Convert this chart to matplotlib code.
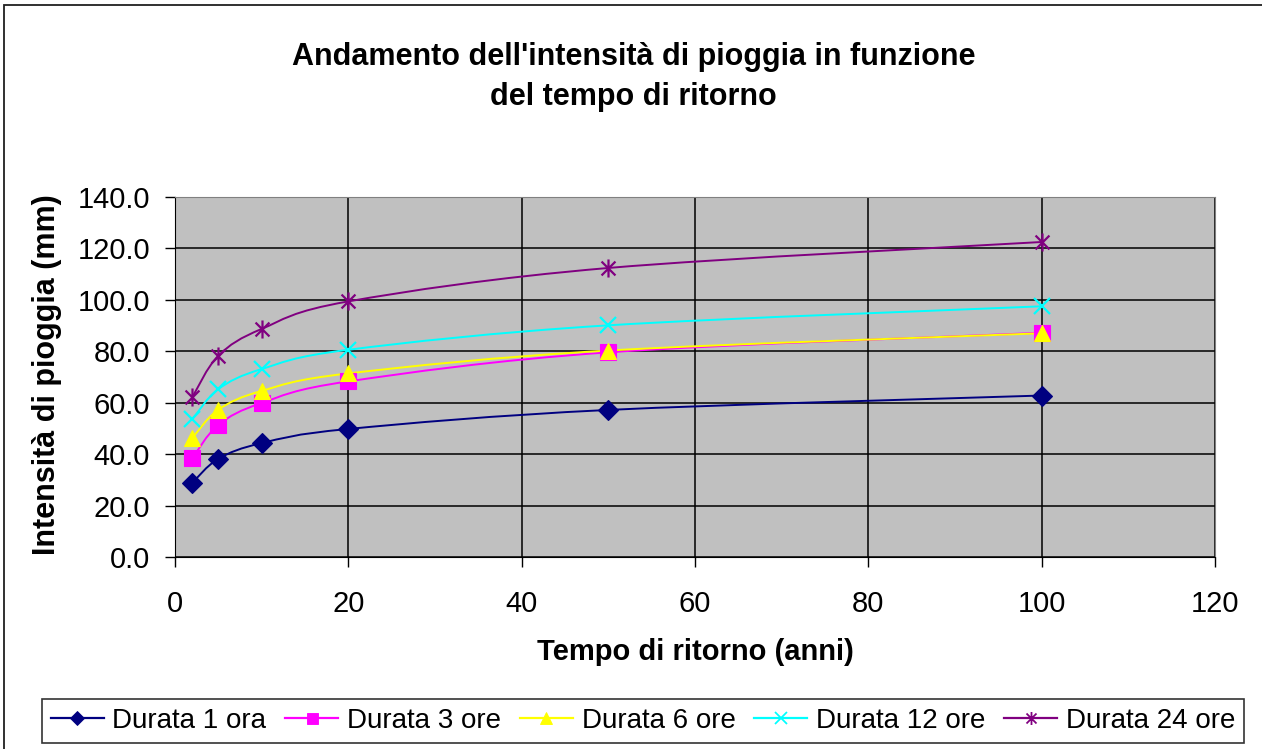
import numpy as np
import matplotlib.pyplot as plt
from matplotlib.path import Path
from matplotlib.patches import PathPatch, Rectangle
from matplotlib.lines import Line2D

plt.rcParams['font.family'] = ['Liberation Sans', 'DejaVu Sans']

# return period (years)
tempo = [2, 5, 10, 20, 50, 100]

# rainfall intensity (mm) for each duration
durata_1 = [28.9, 38.2, 44.3, 49.8, 57.2, 62.8]
durata_3 = [38.5, 51.4, 59.9, 68.3, 79.6, 87.2]
durata_6 = [46.3, 57.3, 64.6, 71.4, 80.3, 87.0]
durata_12 = [53.6, 65.3, 73.1, 80.6, 90.1, 97.5]
durata_24 = [62.2, 78.3, 88.7, 99.4, 112.4, 122.5]

labels = ['Durata 1 ora', 'Durata 3 ore', 'Durata 6 ore', 'Durata 12 ore', 'Durata 24 ore']
colors = ['#000080', '#FF00FF', '#FFFF00', '#00FFFF', '#800080']

# Excel-like asterisk marker: an x plus a vertical bar
star = Path([(-1, -1), (1, 1), (-1, 1), (1, -1), (0, -1.3), (0, 1.3)],
            [Path.MOVETO, Path.LINETO, Path.MOVETO, Path.LINETO, Path.MOVETO, Path.LINETO])
markers = ['D', 's', '^', 'x', star]
msizes = [10, 11, 12, 12, 13]


def smooth_path(x, y):
    # Catmull-Rom style bezier through the points (like Excel smoothed lines)
    p = np.column_stack([x, y]).astype(float)
    n = len(p)
    verts = [p[0]]
    codes = [Path.MOVETO]
    for i in range(n - 1):
        p0 = p[i - 1] if i > 0 else p[i]
        p3 = p[i + 2] if i + 2 < n else p[i + 1]
        c1 = p[i] + (p[i + 1] - p0) / 6
        c2 = p[i + 1] - (p3 - p[i]) / 6
        verts += [c1, c2, p[i + 1]]
        codes += [Path.CURVE4] * 3
    return Path(verts, codes)


fig = plt.figure(figsize=(12.62, 7.49), dpi=100)
fig.patch.set_facecolor('white')
# chart area border (right and bottom edges fall outside the picture)
fig.add_artist(Rectangle((0.0035, -0.05), 1.1, 1.0433, transform=fig.transFigure,
                         fill=False, edgecolor='#202020', linewidth=1.3))

ax = fig.add_axes([0.1387, 0.2563, 0.8241, 0.4807])
ax.set_facecolor('#C0C0C0')

series = [durata_1, durata_3, durata_6, durata_12, durata_24]
handles = []
for vals, lab, col, mk, ms in zip(series, labels, colors, markers, msizes):
    ax.add_patch(PathPatch(smooth_path(tempo, vals), facecolor='none',
                           edgecolor=col, linewidth=1.4, zorder=3))
    mew = 1.6 if (mk == 'x' or mk is star) else 0.8
    ax.plot(tempo, vals, linestyle='none', marker=mk, markersize=ms,
            color=col, markeredgecolor=col, markeredgewidth=mew, zorder=4,
            clip_on=False)
    handles.append(Line2D([], [], color=col, linewidth=1.6, marker=mk,
                          markersize=ms * 0.72, markeredgewidth=mew * 0.8))

ax.set_xlim(0, 120)
ax.set_ylim(0, 140)
ax.set_xticks(np.arange(0, 121, 20))
ax.set_yticks(np.arange(0, 141, 20))
ax.set_yticklabels([f'{v:.1f}' for v in np.arange(0, 141, 20)])
ax.grid(True, color='black', linewidth=1.1)
ax.set_axisbelow(True)
ax.tick_params(labelsize=21, length=7, width=1, color='black')
ax.tick_params(axis='x', pad=16.5)
ax.tick_params(axis='y', pad=11)
for side in ['top', 'right']:
    ax.spines[side].set_color('#808080')
for side in ['left', 'bottom']:
    ax.spines[side].set_color('black')

fig.text(0.502, 0.897, "Andamento dell'intensità di pioggia in funzione\ndel tempo di ritorno",
         ha='center', va='center', fontsize=22, fontweight='bold', linespacing=1.45)
fig.text(0.551, 0.129, 'Tempo di ritorno (anni)', ha='center', va='center',
         fontsize=21, fontweight='bold')
fig.text(0.037, 0.500, 'Intensità di pioggia (mm)', ha='center', va='center',
         rotation=90, fontsize=22, fontweight='bold')

leg = fig.legend(handles=handles, labels=labels, loc='center', ncol=5,
                 bbox_to_anchor=(0.5095, 0.0374), frameon=True, fancybox=False,
                 edgecolor='black', fontsize=20, handlelength=1.9,
                 handletextpad=0.32, columnspacing=0.68, borderpad=0.33)
leg.get_frame().set_linewidth(1.2)

fig.savefig('out.png', dpi=100)
